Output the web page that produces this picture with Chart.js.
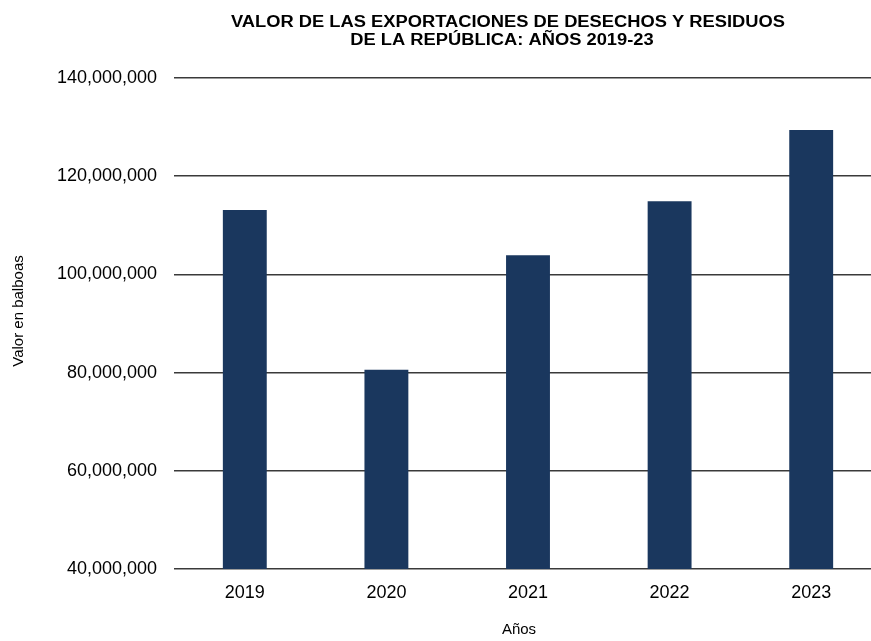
<!DOCTYPE html>
<html>
<head>
<meta charset="utf-8">
<script src="https://cdn.jsdelivr.net/npm/chart.js@4"></script>
<style>
  body { margin: 0; overflow: hidden; background: #fff; }
  #wrap { width: 882px; height: 641px; }
</style>
</head>
<body>
<div id="wrap"><canvas id="barChart" width="882" height="641"></canvas></div>
<script>
// export values per year (balboas)
const years = ['2019', '2020', '2021', '2022', '2023'];
const values = [113100000, 80600000, 103900000, 114900000, 129400000];
const titleLines = [
  'VALOR DE LAS EXPORTACIONES DE DESECHOS Y RESIDUOS',
  'DE LA REPÚBLICA: AÑOS 2019-23',
];
const yTitle = 'Valor en balboas';
const xTitle = 'Años';

const font = "'Liberation Sans', Arial, sans-serif";
const grid = '#3a3a3a';
const titleStretch = 1.145;

// chart title (wide bold face) plus both axis titles
const titlePlugin = {
  id: 'textBlocks',
  afterDraw(chart) {
    const ctx = chart.ctx;
    ctx.save();
    ctx.fillStyle = '#000';
    ctx.textAlign = 'center';
    ctx.textBaseline = 'middle';

    ctx.save();
    ctx.font = 'bold 16px ' + font;
    ctx.scale(titleStretch, 1);
    ctx.fillText(titleLines[0], 508 / titleStretch, 23);
    ctx.fillText(titleLines[1], 502 / titleStretch, 41);
    ctx.restore();

    ctx.font = '15px ' + font;
    ctx.fillText(xTitle, 519, 630);

    ctx.translate(19, 311);
    ctx.rotate(-Math.PI / 2);
    ctx.fillText(yTitle, 0, 0);
    ctx.restore();
  },
};

const config = {
  type: 'bar',
  data: {
    labels: years,
    datasets: [
      {
        label: 'Valor',
        backgroundColor: '#1a375e',
        data: values,
        barPercentage: 0.31,
        categoryPercentage: 1,
      },
    ],
  },
  options: {
    responsive: false,
    animation: false,
    layout: { padding: { top: 78, bottom: 0, left: 0, right: 0 } },
    plugins: {
      legend: { display: false },
      tooltip: { enabled: false },
    },
    scales: {
      x: {
        grid: { display: false },
        border: { display: false },
        ticks: { color: '#000', font: { family: font, size: 18 }, padding: 5 },
        afterFit(scale) { scale.height = 72; },
      },
      y: {
        min: 40000000,
        max: 140000000,
        ticks: {
          stepSize: 20000000,
          color: '#000',
          font: { family: font, size: 18 },
          padding: 17,
          callback: (v) => v.toLocaleString('en-US'),
        },
        grid: { color: grid, lineWidth: 1.5, drawTicks: false },
        border: { display: false },
        afterFit(scale) { scale.width = 174; },
      },
    },
  },
  plugins: [titlePlugin],
};

const barChart = new Chart(document.getElementById('barChart'), config);
</script>
</body>
</html>
